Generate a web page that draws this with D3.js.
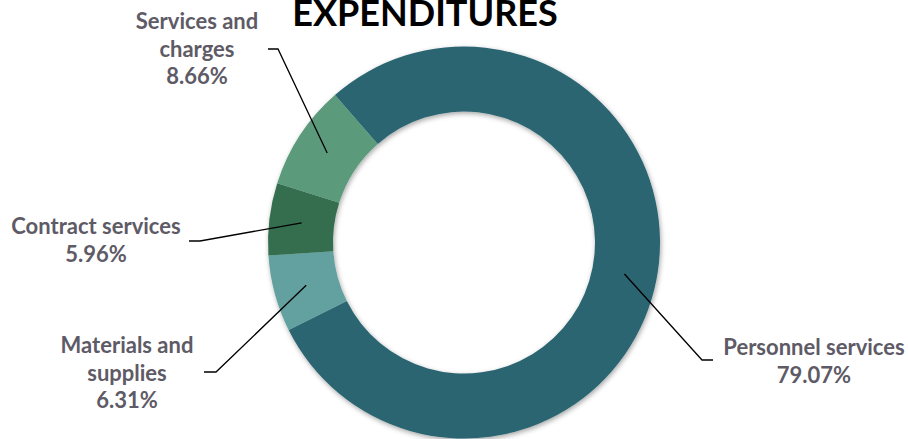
<!DOCTYPE html>
<html>
<head>
<meta charset="utf-8">
<script src="https://cdn.jsdelivr.net/npm/d3@7"></script>
<style>
  body { margin: 0; background: #fff; }
  text { font-family: Lato, "Open Sans", sans-serif; font-weight: bold; }
</style>
</head>
<body>
<svg id="donut-chart"></svg>
<script>
// Data
const categories = ["Personnel services", "Materials and supplies", "Contract services", "Services and charges"];
const values = [79.07, 6.31, 5.96, 8.66];
const colors = ["#2a6571", "#62a19f", "#356e4f", "#5b9a7c"];

// Label text lines (as wrapped in the original)
const labelLines = [
  ["Personnel services"],
  ["Materials and", "supplies"],
  ["Contract services"],
  ["Services and", "charges"]
];

// Size
const width = 908;
const height = 439;
const cx = 464, cy = 242.5;
const outerR = 196, innerR = 131;

// label placement: elbow point, end of leader, text centre and first baseline
const labelPos = [
  { elbow: [702, 360], end: [713, 360], tx: 814, ty: 355 },
  { elbow: [216, 372], end: [204, 372], tx: 127, ty: 353 },
  { elbow: [200, 241], end: [189, 241], tx: 96, ty: 234 },
  { elbow: [278, 49], end: [268, 49], tx: 197, ty: 29 }
];

const data = categories.map((c, i) => ({ label: c, value: values[i], lines: labelLines[i] }));

const svg = d3.select("#donut-chart")
  .attr("width", width)
  .attr("height", height)
  .style("display", "block");

// soft drop shadow like the original
const defs = svg.append("defs");
defs.append("filter")
  .attr("id", "shadow")
  .attr("x", "-20%").attr("y", "-20%")
  .attr("width", "140%").attr("height", "140%")
  .append("feDropShadow")
  .attr("dx", 1).attr("dy", 2)
  .attr("stdDeviation", 2.5)
  .attr("flood-color", "#000")
  .attr("flood-opacity", 0.35);

const g = svg.append("g")
  .attr("transform", `translate(${cx}, ${cy})`);

const color = d3.scaleOrdinal()
  .domain(categories)
  .range(colors);

const startDeg = -41.2;
const pie = d3.pie()
  .sort(null)
  .value(d => d.value)
  .startAngle(startDeg * Math.PI / 180)
  .endAngle((startDeg + 360) * Math.PI / 180);

const arc = d3.arc()
  .innerRadius(innerR)
  .outerRadius(outerR);

const arcs = pie(data);

g.append("g")
  .attr("filter", "url(#shadow)")
  .selectAll("path")
  .data(arcs)
  .enter()
  .append("path")
  .attr("d", arc)
  .attr("fill", d => color(d.data.label));

// Leader lines
arcs.forEach((d, i) => {
  const c = arc.centroid(d);
  const p = labelPos[i];
  const pts = [[cx + c[0], cy + c[1]], p.elbow, p.end];
  svg.append("polyline")
    .attr("points", pts.map(q => q.join(",")).join(" "))
    .attr("fill", "none")
    .attr("stroke", "#000")
    .attr("stroke-width", 1.3);
});

// Labels
const lineH = 27.5;
arcs.forEach((d, i) => {
  const p = labelPos[i];
  const t = svg.append("text")
    .attr("text-anchor", "middle")
    .style("font-size", "22px")
    .style("fill", "#5e5a66");
  const lines = d.data.lines.concat([d.data.value.toFixed(2) + "%"]);
  lines.forEach((ln, k) => {
    t.append("tspan")
      .attr("x", p.tx)
      .attr("y", p.ty + k * lineH)
      .text(ln);
  });
});

// Title (sits against the top edge, as in the original)
svg.append("text")
  .attr("x", 425)
  .attr("y", 26)
  .attr("text-anchor", "middle")
  .style("font-size", "36px")
  .style("fill", "#000")
  .text("EXPENDITURES");
</script>
</body>
</html>
